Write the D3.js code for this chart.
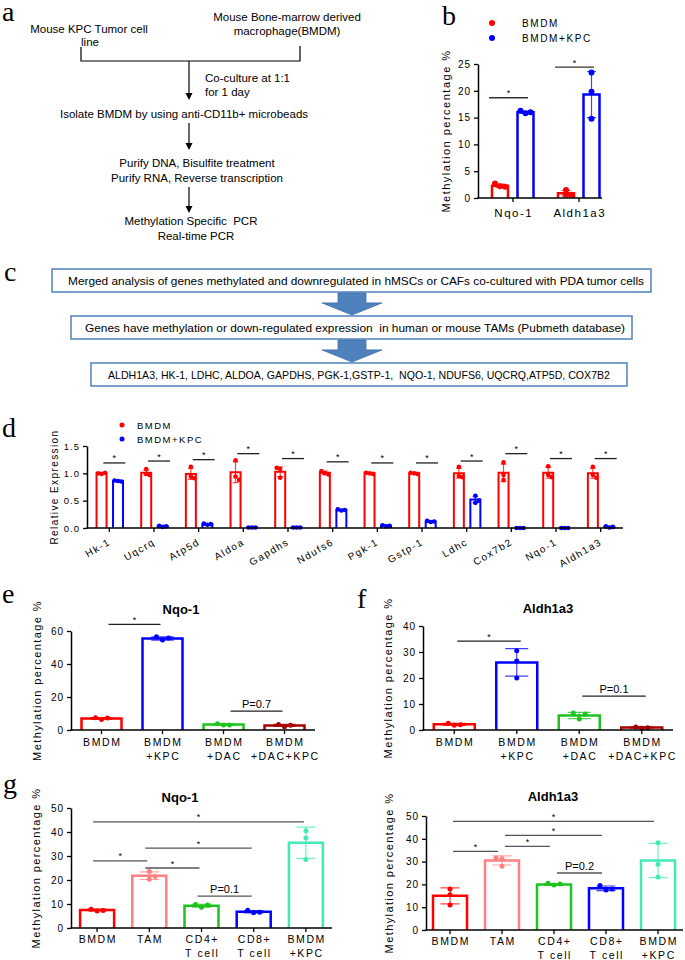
<!DOCTYPE html>
<html>
<head>
<meta charset="utf-8">
<script src="https://cdn.jsdelivr.net/npm/d3@7"></script>
<style>
  body { margin: 0; background: #fff; }
  svg text { font-family: Arial, "Liberation Sans", sans-serif; white-space: pre; }
</style>
</head>
<body>
<svg id="fig" width="685" height="960"></svg>
<script>
// ---------- data ----------
// panel a: flow chart text
const aSources = [["Mouse KPC Tumor cell", "line"], ["Mouse Bone-marrow derived", "macrophage(BMDM)"]];
const aCoculture = ["Co-culture at 1:1", "for 1 day"];
const aSteps = [["Isolate BMDM by using anti-CD11b+ microbeads"],
  ["Purify DNA, Bisulfite treatment", "Purify RNA, Reverse transcription"],
  ["Methylation Specific  PCR", "Real-time PCR"]];

// panel b
const bCats = ["Nqo-1", "Aldh1a3"];
const bLegend = ["BMDM", "BMDM+KPC"];
const bTicks = [0, 5, 10, 15, 20, 25];
const bBMDM = [2.3, 0.9];
const bBMDMsd = [0.3, 0.5];
const bBMDMpts = [[2.7, 2.2, 2.1], [1.5, 0.6, 0.6]];
const bKPC = [16.0, 19.3];
const bKPCsd = [0.15, 4.3];
const bKPCpts = [[16.3, 15.8, 16.0], [23.4, 19.8, 14.8]];
const bSig = [18.7, 24.4];

// panel c
const cBoxes = ["Merged analysis of genes methylated and downregulated in hMSCs or CAFs co-cultured with PDA tumor cells",
  "Genes have methylation or down-regulated expression  in human or mouse TAMs (Pubmeth database)",
  "ALDH1A3, HK-1, LDHC, ALDOA, GAPDHS, PGK-1,GSTP-1,  NQO-1, NDUFS6, UQCRQ,ATP5D, COX7B2"];

// panel d
const dCats = ["Hk-1", "Uqcrq", "Atp5d", "Aldoa", "Gapdhs", "Ndufs6", "Pgk-1", "Gstp-1", "Ldhc", "Cox7b2", "Nqo-1", "Aldh1a3"];
const dTicks = [0, 0.5, 1.0, 1.5];
const dBMDM = [1.0, 1.01, 0.99, 1.02, 1.03, 1.01, 1.0, 1.0, 1.0, 1.01, 1.01, 1.0];
const dBMDMsd = [0.01, 0.05, 0.1, 0.19, 0.09, 0.03, 0.01, 0.01, 0.09, 0.16, 0.1, 0.09];
const dBMDMpts = [[1.0, 0.99, 1.01], [1.08, 0.99, 0.97], [1.12, 0.94, 0.91], [1.24, 0.94, 0.88],
  [1.1, 1.08, 0.92], [1.04, 1.0, 0.98], [1.01, 1.0, 0.99], [1.01, 1.0, 0.99],
  [1.12, 0.95, 0.93], [1.2, 0.97, 0.88], [1.13, 0.97, 0.93], [1.12, 0.97, 0.92]];
const dKPC = [0.86, 0.03, 0.07, 0.01, 0.01, 0.33, 0.04, 0.12, 0.52, 0.0, 0.0, 0.02];
const dKPCsd = [0.01, 0.01, 0.01, 0, 0, 0.01, 0.01, 0.01, 0.06, 0, 0, 0.01];
const dKPCpts = [[0.87, 0.86, 0.85], [0.04, 0.02, 0.03], [0.08, 0.06, 0.07], [0.01, 0.01, 0.01],
  [0.01, 0.01, 0.01], [0.34, 0.32, 0.33], [0.05, 0.03, 0.04], [0.13, 0.11, 0.12],
  [0.59, 0.46, 0.5], [0.0, 0.0, 0.0], [0.0, 0.0, 0.0], [0.03, 0.01, 0.02]];
const dSig = [1.19, 1.225, 1.25, 1.36, 1.27, 1.21, 1.19, 1.19, 1.225, 1.36, 1.27, 1.27];

// panels e, f
const efCats = [["BMDM"], ["BMDM", "+KPC"], ["BMDM", "+DAC"], ["BMDM", "+DAC+KPC"]];
const eTicks = [0, 20, 40, 60];
const eVals = [7.0, 55.5, 3.3, 2.8];
const eSd = [0.5, 1.0, 0.4, 0.6];
const ePts = [[7.5, 6.4, 7.3], [56.5, 54.5, 55.7], [3.8, 3.0, 3.1], [3.3, 2.0, 2.9]];
const eSig = [{ a: 0, b: 1, v: 64, t: "*" }, { a: 2, b: 3, v: 11.5, t: "P=0.7" }];
const fTicks = [0, 10, 20, 30, 40];
const fVals = [2.2, 26.0, 5.6, 1.0];
const fSd = [0.4, 5.3, 1.2, 0.25];
const fPts = [[2.6, 1.8, 2.0], [30.5, 26.5, 20.0], [6.5, 4.2, 6.2], [1.2, 0.7, 0.9]];
const fSig = [{ a: 0, b: 1, v: 34.2, t: "*" }, { a: 2, b: 3, v: 13, t: "P=0.1" }];

// panel g
const gCats = [["BMDM"], ["TAM"], ["CD4+", "T cell"], ["CD8+", "T cell"], ["BMDM", "+KPC"]];
const gTicks = [0, 10, 20, 30, 40, 50];
const gNqoVals = [7.5, 21.8, 9.3, 6.8, 35.5];
const gNqoSd = [0.4, 1.6, 0.6, 0.5, 6.5];
const gNqoPts = [[7.8, 7.1, 7.3], [23.5, 20.3, 21.5], [9.8, 8.6, 9.6], [7.4, 6.4, 6.6], [40.5, 37.5, 28.5]];
const gNqoSig = [{ a: 0, b: 4, v: 44.2, t: "*" }, { a: 1, b: 3, v: 33.3, t: "*" }, { a: 0, b: 1, v: 28, t: "*" },
  { a: 1, b: 2, v: 25, t: "*" }, { a: 2, b: 3, v: 13.3, t: "P=0.1" }];
const gAldVals = [15.0, 30.5, 20.0, 18.3, 30.5];
const gAldSd = [3.5, 2.0, 0.4, 1.0, 7.5];
const gAldPts = [[18.0, 15.5, 11.0], [31.5, 31.3, 28.0], [20.5, 19.7, 20.2], [19.5, 17.5, 18.0], [38.3, 28.8, 23.3]];
const gAldSig = [{ a: 0, b: 4, v: 47.6, t: "*" }, { a: 1, b: 3, v: 41.5, t: "*" }, { a: 0, b: 1, v: 34.5, t: "*" },
  { a: 1, b: 2, v: 36.7, t: "*" }, { a: 2, b: 3, v: 25, t: "P=0.2" }];

// ---------- drawing ----------
const RED = "#ff0000", BLUE = "#0000ff", GREEN = "#1ec31e", DARKRED = "#a80000",
  PINK = "#ff8080", AQUA = "#40ebb4", BOXBLUE = "#4f81bd";
const SERIF = "'Liberation Serif', 'DejaVu Serif', 'Times New Roman', serif";
const svg = d3.select("#fig");

function txt(g, x, y, s, o) {
  o = o || {};
  const t = g.append("text").attr("x", x).attr("y", y).text(s)
    .attr("font-size", o.size || 11)
    .attr("text-anchor", o.anchor || "start")
    .attr("fill", o.fill || "#000");
  if (o.ls) t.style("letter-spacing", o.ls + "px");
  if (o.weight) t.attr("font-weight", o.weight);
  if (o.family) t.style("font-family", o.family);
  if (o.rotate) t.attr("transform", "rotate(" + o.rotate + "," + x + "," + y + ")");
  if (o.len) t.attr("textLength", o.len).attr("lengthAdjust", "spacingAndGlyphs");
  return t;
}

function panelLetter(x, y, s) {
  txt(svg, x, y, s, { size: 28, family: SERIF });
}

function arrowDown(g, x, y0, y1) {
  g.append("line").attr("x1", x).attr("x2", x).attr("y1", y0).attr("y2", y1 - 5)
    .attr("stroke", "#000").attr("stroke-width", 1.2);
  g.append("path").attr("d", "M" + (x - 3.5) + "," + (y1 - 7) + "L" + (x + 3.5) + "," + (y1 - 7) + "L" + x + "," + y1 + "Z")
    .attr("fill", "#000");
}

// panel a
(function () {
  const g = svg.append("g");
  panelLetter(2, 21, "a");
  txt(g, 89, 33, aSources[0][0], { size: 11.5, anchor: "middle" });
  txt(g, 90, 46, aSources[0][1], { size: 11.5, anchor: "middle" });
  txt(g, 287, 21, aSources[1][0], { size: 11.5, anchor: "middle" });
  txt(g, 287, 35, aSources[1][1], { size: 11.5, anchor: "middle" });
  g.append("path").attr("d", "M81,47V61H300V46").attr("fill", "none").attr("stroke", "#000").attr("stroke-width", 1.2);
  arrowDown(g, 189, 61, 100);
  txt(g, 205, 82, aCoculture[0], { size: 11.5 });
  txt(g, 205, 96, aCoculture[1], { size: 11.5 });
  txt(g, 184, 118, aSteps[0][0], { size: 11.5, anchor: "middle" });
  arrowDown(g, 189, 123, 150);
  txt(g, 197, 167, aSteps[1][0], { size: 11.5, anchor: "middle" });
  txt(g, 197, 182, aSteps[1][1], { size: 11.5, anchor: "middle" });
  arrowDown(g, 189, 187, 213);
  txt(g, 191, 225, aSteps[2][0], { size: 11.5, anchor: "middle" });
  txt(g, 196, 240, aSteps[2][1], { size: 11.5, anchor: "middle" });
})();

// panel c
(function () {
  const g = svg.append("g");
  panelLetter(4, 281, "c");
  const boxes = [{ x0: 52, x1: 651, y: 269, tx: 68, tw: 576 },
    { x0: 71, x1: 632, y: 316, tx: 85, tw: 540 },
    { x0: 91, x1: 627, y: 363, tx: 108, tw: 502 }];
  boxes.forEach(function (b, i) {
    g.append("rect").attr("x", b.x0).attr("y", b.y).attr("width", b.x1 - b.x0).attr("height", 23)
      .attr("fill", "#fff").attr("stroke", BOXBLUE).attr("stroke-width", 1.5);
    txt(g, b.tx, b.y + 15.5, cBoxes[i], { size: 11, len: b.tw });
    if (i < 2) {
      const cx = 352, t = b.y + 24, bot = boxes[i + 1].y - 1;
      const mid = t + (bot - t) * 0.45;
      g.append("path")
        .attr("d", "M" + (cx - 14) + "," + t + "H" + (cx + 14) + "V" + mid + "H" + (cx + 30) + "L" + cx + "," + bot +
          "L" + (cx - 30) + "," + mid + "H" + (cx - 14) + "Z")
        .attr("fill", BOXBLUE).attr("stroke", "#3d6ea8").attr("stroke-width", 0.8);
    }
  });
})();

// generic Prism-like bar chart
function chart(o) {
  const g = svg.append("g");
  const n = o.ncat;
  const x = d3.scaleBand().domain(d3.range(n)).range(o.band);
  const y = d3.scaleLinear().domain([0, o.ymax]).range(o.yr);
  const cx = function (i) { return x(i) + x.bandwidth() / 2; };
  const y0 = y(0);

  o.series.forEach(function (s) {
    s.vals.forEach(function (v, i) {
      const col = Array.isArray(s.color) ? s.color[i] : s.color;
      const c = cx(i) + (s.off || 0);
      const bx = c - o.barW / 2;
      g.append("path").attr("d", "M" + bx + "," + y0 + "V" + y(v) + "H" + (bx + o.barW) + "V" + y0)
        .attr("fill", "#fff").attr("stroke", col).attr("stroke-width", o.sw);
      const sd = s.sd[i];
      if (sd > 0) {
        const cw = o.barW * 0.28;
        const lo = y(Math.max(0, v - sd)), hi = y(v + sd);
        g.append("path").attr("d", "M" + c + "," + lo + "V" + hi + "M" + (c - cw) + "," + hi + "H" + (c + cw) +
          "M" + (c - cw) + "," + lo + "H" + (c + cw))
          .attr("fill", "none").attr("stroke", col).attr("stroke-width", 1.2).attr("opacity", 0.75);
      }
      const py = s.pts[i].map(function (p) { return y(p); });
      py.forEach(function (yy, k) {
        const close = py.some(function (o2, j) { return j !== k && Math.abs(o2 - yy) < o.r * 1.6; });
        const dx = close ? (k - 1) * o.jit : 0;
        g.append("circle").attr("cx", c + dx).attr("cy", yy).attr("r", o.r).attr("fill", col);
      });
    });
  });

  // axes
  const ya = g.append("g").attr("transform", "translate(" + o.axisX[0] + ",0)")
    .call(d3.axisLeft(y).tickValues(o.ticks).tickSize(4).tickSizeOuter(0).tickPadding(3).tickFormat(o.fmt));
  ya.select(".domain").attr("stroke-width", 1.5);
  ya.selectAll(".tick line").attr("stroke-width", 1.3);
  ya.selectAll("text").attr("font-size", o.tickSize).style("letter-spacing", o.tickLs + "px");
  g.append("line").attr("x1", o.axisX[0] - 0.75).attr("x2", o.axisX[1]).attr("y1", y0).attr("y2", y0)
    .attr("stroke", "#000").attr("stroke-width", 1.5);
  d3.range(n).forEach(function (i) {
    g.append("line").attr("x1", cx(i)).attr("x2", cx(i)).attr("y1", y0).attr("y2", y0 + 4)
      .attr("stroke", "#000").attr("stroke-width", 1.3);
    const lab = o.labels[i];
    if (o.xRot) {
      txt(g, cx(i) + 2, y0 + 16, lab[0], { size: o.xSize, ls: o.xLs, anchor: "end", rotate: o.xRot });
    } else {
      lab.forEach(function (l, k) {
        txt(g, cx(i) + o.xLs / 2, o.xY + k * o.xGap, l, { size: o.xSize, ls: o.xLs, anchor: "middle" });
      });
    }
  });

  // significance lines
  o.sig.forEach(function (s) {
    const xa = cx(s.a) + o.sigDx[0], xb = cx(s.b) + o.sigDx[1];
    const ly = y(s.v);
    g.append("line").attr("x1", xa).attr("x2", xb).attr("y1", ly).attr("y2", ly)
      .attr("stroke", o.sigColor || "#000").attr("stroke-width", 1.3);
    if (s.t === "*") txt(g, (xa + xb) / 2, ly - 1.5, "*", { size: 9, anchor: "middle" });
    else txt(g, (xa + xb) / 2, ly - 3.5, s.t, { size: 11, anchor: "middle" });
  });

  // y label
  const my = (o.yr[0] + o.yr[1]) / 2;
  txt(g, o.yLabX, my, o.yLab, { size: o.yLabSize, ls: o.yLabLs, anchor: "middle", rotate: -90 });

  if (o.title) txt(g, o.title.x, o.title.y, o.title.t, { size: 13, weight: "bold", anchor: "middle" });
  return g;
}

// panel b
panelLetter(442, 25, "b");
bLegend.forEach(function (l, i) {
  svg.append("circle").attr("cx", 492).attr("cy", 23 + i * 15).attr("r", 3).attr("fill", i ? BLUE : RED);
  txt(svg, 522, 27 + i * 15, l, { size: 10, ls: 1.6 });
});
chart({
  ncat: 2, band: [480, 612], axisX: [478, 602], yr: [198, 64], ymax: 25, ticks: bTicks, fmt: d3.format("d"),
  series: [{ vals: bBMDM, sd: bBMDMsd, pts: bBMDMpts, color: RED, off: -13 },
    { vals: bKPC, sd: bKPCsd, pts: bKPCpts, color: BLUE, off: 12.5 }],
  barW: 16, sw: 2.5, r: 3, jit: 5,
  sig: bCats.map(function (c, i) { return { a: i, b: i, v: bSig[i], t: "*" }; }), sigDx: [-24, 15], sigColor: "#333",
  labels: bCats.map(function (c) { return [c]; }), xY: 217, xGap: 0, xSize: 11.5, xLs: 1.5,
  tickSize: 10, tickLs: 1, yLab: "Methylation percentage %", yLabX: 450, yLabSize: 11, yLabLs: 1.5
});

// panel d
panelLetter(2, 437, "d");
bLegend.forEach(function (l, i) {
  svg.append("circle").attr("cx", 122).attr("cy", 425 + i * 14).attr("r", 2.5).attr("fill", i ? BLUE : RED);
  txt(svg, 137, 428.5 + i * 14, l, { size: 9.5, ls: 1.5 });
});
chart({
  ncat: 12, band: [87, 623], axisX: [87, 623], yr: [528, 446], ymax: 1.5, ticks: dTicks, fmt: d3.format(".1f"),
  series: [{ vals: dBMDM, sd: dBMDMsd, pts: dBMDMpts, color: RED, off: -7.8 },
    { vals: dKPC, sd: dKPCsd, pts: dKPCpts, color: BLUE, off: 8.7 }],
  barW: 10, sw: 2, r: 2.3, jit: 3.5,
  sig: dCats.map(function (c, i) { return { a: i, b: i, v: dSig[i], t: "*" }; }), sigDx: [-6, 16], sigColor: "#222",
  labels: dCats.map(function (c) { return [c]; }), xRot: -30, xSize: 10, xLs: 1.5,
  tickSize: 9.5, tickLs: 1, yLab: "Relative Expression", yLabX: 58, yLabSize: 10, yLabLs: 1.4
});

// panel e
panelLetter(2, 603, "e");
chart({
  ncat: 4, band: [71, 315], axisX: [71, 315], yr: [730, 631], ymax: 60, ticks: eTicks, fmt: d3.format("d"),
  series: [{ vals: eVals, sd: eSd, pts: ePts, color: [RED, BLUE, GREEN, DARKRED], off: 0 }],
  barW: 40, sw: 2.5, r: 2.5, jit: 6,
  sig: eSig, sigDx: [7, -2], sigColor: "#222",
  labels: efCats, xY: 746, xGap: 14, xSize: 10.5, xLs: 1.6,
  tickSize: 10, tickLs: 1, yLab: "Methylation percentage %", yLabX: 41, yLabSize: 11, yLabLs: 1.4,
  title: { x: 181, y: 614, t: "Nqo-1" }
});

// panel f
panelLetter(357, 608, "f");
chart({
  ncat: 4, band: [423, 673], axisX: [423, 673], yr: [730, 626], ymax: 40, ticks: fTicks, fmt: d3.format("d"),
  series: [{ vals: fVals, sd: fSd, pts: fPts, color: [RED, BLUE, GREEN, DARKRED], off: 0 }],
  barW: 41, sw: 2.5, r: 2.5, jit: 6,
  sig: fSig, sigDx: [3, 4], sigColor: "#222",
  labels: efCats, xY: 746, xGap: 14, xSize: 10.5, xLs: 1.6,
  tickSize: 10, tickLs: 1, yLab: "Methylation percentage %", yLabX: 392, yLabSize: 11, yLabLs: 1.4,
  title: { x: 548, y: 613, t: "Aldh1a3" }
});

// panel g
panelLetter(3, 793, "g");
chart({
  ncat: 5, band: [71, 332], axisX: [71, 332], yr: [928, 808], ymax: 50, ticks: gTicks, fmt: d3.format("d"),
  series: [{ vals: gNqoVals, sd: gNqoSd, pts: gNqoPts, color: [RED, PINK, GREEN, BLUE, AQUA], off: 0 }],
  barW: 34, sw: 2.5, r: 2.5, jit: 6,
  sig: gNqoSig, sigDx: [-4, -2], sigColor: "#555",
  labels: gCats, xY: 943, xGap: 13.5, xSize: 10.5, xLs: 1.6,
  tickSize: 10, tickLs: 1, yLab: "Methylation percentage %", yLabX: 40, yLabSize: 11, yLabLs: 1.4,
  title: { x: 180, y: 802, t: "Nqo-1" }
});
chart({
  ncat: 5, band: [424, 684], axisX: [426, 683], yr: [930, 816], ymax: 50, ticks: gTicks, fmt: d3.format("d"),
  series: [{ vals: gAldVals, sd: gAldSd, pts: gAldPts, color: [RED, PINK, GREEN, BLUE, AQUA], off: 0 }],
  barW: 34, sw: 2.5, r: 2.5, jit: 6,
  sig: gAldSig, sigDx: [3, -4], sigColor: "#555",
  labels: gCats, xY: 945, xGap: 13.5, xSize: 10.5, xLs: 1.6,
  tickSize: 10, tickLs: 1, yLab: "Methylation percentage %", yLabX: 393, yLabSize: 11, yLabLs: 1.4,
  title: { x: 553, y: 801, t: "Aldh1a3" }
});
</script>
</body>
</html>
